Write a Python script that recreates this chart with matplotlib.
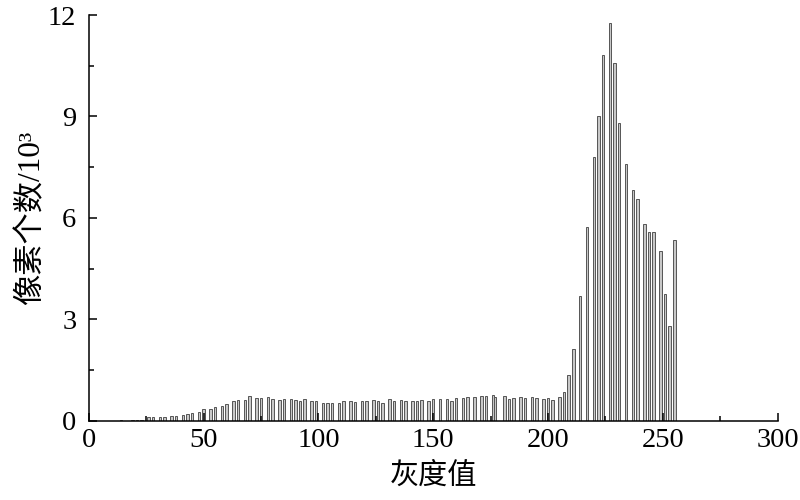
import numpy as np
import matplotlib
matplotlib.use("Agg")
import matplotlib.pyplot as plt
from matplotlib.ticker import MultipleLocator

# gray level of each non-empty bin, and pixel count (x10^3)
gray_levels = [14, 19, 21, 23, 26, 28, 31, 33, 36, 38,
               41, 43, 45, 48, 50, 53, 55, 58, 60, 63,
               65, 68, 70, 73, 75, 78, 80, 83, 85, 88,
               90, 92, 94, 97, 99, 102, 104, 106, 109, 111,
               114, 116, 119, 121, 124, 126, 128, 131, 133, 136,
               138, 141, 143, 145, 148, 150, 153, 156, 158, 160,
               163, 165, 168, 171, 173, 176, 177, 181, 183, 185,
               188, 190, 193, 195, 198, 200, 202, 205, 207, 209,
               211, 214, 217, 220, 222, 224, 227, 229, 231, 234,
               237, 239, 242, 244, 246, 249, 251, 253, 255]
counts = [0.02, 0.02, 0.03, 0.03, 0.10, 0.10, 0.12, 0.12, 0.13, 0.13,
          0.18, 0.20, 0.22, 0.25, 0.34, 0.34, 0.40, 0.43, 0.48, 0.58,
          0.61, 0.61, 0.73, 0.66, 0.66, 0.69, 0.64, 0.62, 0.64, 0.64,
          0.61, 0.58, 0.63, 0.58, 0.58, 0.53, 0.51, 0.51, 0.53, 0.58,
          0.58, 0.56, 0.58, 0.58, 0.61, 0.58, 0.53, 0.63, 0.58, 0.61,
          0.58, 0.58, 0.58, 0.61, 0.58, 0.63, 0.63, 0.64, 0.58, 0.66,
          0.66, 0.69, 0.69, 0.72, 0.72, 0.76, 0.71, 0.73, 0.64, 0.68,
          0.69, 0.66, 0.71, 0.68, 0.64, 0.68, 0.61, 0.69, 0.86, 1.35,
          2.11, 3.69, 5.73, 7.79, 9.02, 10.83, 11.77, 10.59, 8.80, 7.60,
          6.81, 6.57, 5.83, 5.59, 5.59, 5.03, 3.76, 2.80, 5.34]

X_TICKS = [0, 50, 100, 150, 200, 250, 300]
Y_TICKS = [0, 3, 6, 9, 12]
XLABEL = "灰度值"
YLABEL = "像素个数/10³"

SERIF = ["Liberation Serif", "Noto Sans CJK SC"]
plt.rcParams["font.family"] = SERIF
plt.rcParams["axes.linewidth"] = 1.1

fig = plt.figure(figsize=(8, 5), dpi=100)
ax = fig.add_axes([0.111, 0.1586, 0.861, 0.8114])

ax.bar(gray_levels, counts, width=1.1, align="center",
       color="#c8c8c8", edgecolor="#555555", linewidth=0.7)

ax.set_xlim(0, 300)
ax.set_ylim(0, 12)
ax.set_xticks(X_TICKS)
ax.set_yticks(Y_TICKS)
ax.xaxis.set_minor_locator(MultipleLocator(25))
ax.yaxis.set_minor_locator(MultipleLocator(1.5))
ax.tick_params(which="major", direction="in", length=6, width=1.1,
               labelsize=20.5, pad=5)
ax.tick_params(which="minor", direction="in", length=3.5, width=1.1)
ax.tick_params(axis="y", pad=9)

for side in ("top", "right"):
    ax.spines[side].set_visible(False)

ax.set_xlabel(XLABEL, fontsize=21, family=["Noto Sans CJK SC"], labelpad=6)
ax.set_ylabel(YLABEL, fontsize=22.5, family=SERIF, labelpad=1)

fig.savefig("out.png", dpi=100)
